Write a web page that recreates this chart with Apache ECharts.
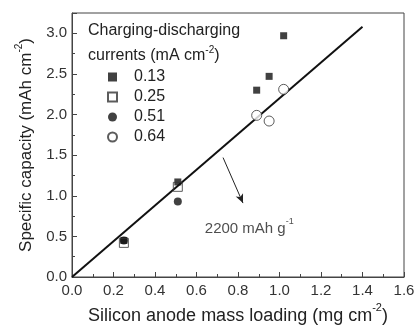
<!DOCTYPE html>
<html>
<head>
<meta charset="utf-8">
<script src="https://cdn.jsdelivr.net/npm/echarts@6/dist/echarts.min.js"></script>
<style>
  html, body { margin: 0; padding: 0; background: #fff; }
  #chart { width: 417px; height: 325px; }
</style>
</head>
<body>
<div id="chart"></div>
<script>
const currents = ["0.13", "0.25", "0.51", "0.64"]
const pts013 = [[0.25, 0.45], [0.51, 1.17], [0.89, 2.3], [0.95, 2.47], [1.02, 2.97]]
const pts025 = [[0.25, 0.42], [0.51, 1.11]]
const pts051 = [[0.25, 0.45], [0.51, 0.93]]
const pts064 = [[0.89, 1.99], [0.95, 1.92], [1.02, 2.31]]
const fitLine = [[0, 0], [1.4, 3.08]]
const arrowFrom = [0.728, 1.47]
const arrowTo = [0.824, 0.91]
const noteAt = [0.64, 0.62]

const font = "Liberation Sans, Arial, sans-serif"
const chart = echarts.init(document.getElementById("chart"))

function supStyles(size) {
  return {
    n: { fontSize: size, lineHeight: size + 4, verticalAlign: "bottom", color: "#222", fontFamily: font },
    sup: { fontSize: Math.round(size * 0.6), lineHeight: size + 4, verticalAlign: "top", color: "#222", fontFamily: font },
  }
}

const option = {
  animation: false,
  backgroundColor: "#fff",
  textStyle: { fontFamily: font },
  grid: {
    left: 72, top: 13, right: 13, bottom: 48,
    outerBoundsMode: "none", containLabel: false,
    show: true, borderColor: "#444", borderWidth: 1,
  },
  legend: {
    data: currents,
    orient: "vertical",
    left: 102,
    top: 64,
    itemGap: 4,
    itemWidth: 9,
    itemHeight: 9,
    textStyle: { fontSize: 16, lineHeight: 16, color: "#222", fontFamily: font, padding: [0, 0, 0, 12] },
  },
  graphic: [
    {
      type: "text",
      left: 88,
      top: 23,
      style: { text: "Charging-discharging", fontSize: 16, fill: "#222", fontFamily: font },
    },
    {
      type: "text",
      left: 88,
      top: 45,
      style: {
        text: "{n|currents (mA cm}{sup|-2}{n|)}",
        rich: {
          n: { fontSize: 16, lineHeight: 19, verticalAlign: "bottom", fill: "#222", fontFamily: font },
          sup: { fontSize: 10, lineHeight: 19, verticalAlign: "top", fill: "#222", fontFamily: font },
        },
      },
    },
  ],
  xAxis: {
    type: "value",
    min: 0,
    max: 1.6,
    interval: 0.2,
    name: "{n|Silicon anode mass loading (mg cm}{sup|-2}{n|)}",
    nameLocation: "middle",
    nameGap: 24,
    nameTextStyle: { rich: supStyles(18) },
    axisLine: { onZero: false, lineStyle: { color: "#444" } },
    axisTick: { inside: true, length: 5, lineStyle: { color: "#444" } },
    minorTick: { show: true, splitNumber: 2, length: 3, lineStyle: { color: "#444" } },
    axisLabel: { fontSize: 15, color: "#333", margin: 6, formatter: v => v.toFixed(1) },
    splitLine: { show: false },
  },
  yAxis: {
    type: "value",
    min: 0,
    max: 3.25,
    interval: 0.5,
    name: "{n|Specific capacity (mAh cm}{sup|-2}{n|)}",
    nameLocation: "middle",
    nameGap: 36,
    nameTextStyle: { rich: supStyles(17) },
    axisLine: { show: true, onZero: false, lineStyle: { color: "#444" } },
    axisTick: { show: true, inside: true, length: 5, lineStyle: { color: "#444" } },
    minorTick: { show: true, splitNumber: 2, length: 3, lineStyle: { color: "#444" } },
    axisLabel: { fontSize: 15, color: "#333", margin: 5, formatter: v => v.toFixed(1), showMaxLabel: false },
    splitLine: { show: false },
  },
  series: [
    {
      name: "fit",
      type: "line",
      data: fitLine,
      symbol: "none",
      lineStyle: { color: "#111", width: 2 },
      z: 1,
      markLine: {
        silent: true,
        symbol: ["none", "arrow"],
        symbolSize: [6, 9],
        lineStyle: { color: "#222", width: 1, type: "solid" },
        label: { show: false },
        data: [[{ coord: arrowFrom }, { coord: arrowTo }]],
      },
    },
    {
      name: "note",
      type: "scatter",
      data: [noteAt],
      symbolSize: 0,
      silent: true,
      label: {
        show: true,
        position: "right",
        distance: 0,
        formatter: "{n|2200 mAh g}{sup|-1}",
        rich: supStyles(15),
      },
    },
    {
      name: "0.13",
      type: "scatter",
      data: pts013,
      symbol: "rect",
      symbolSize: 7,
      itemStyle: { color: "#111" },
      z: 3,
    },
    {
      name: "0.25",
      type: "scatter",
      data: pts025,
      symbol: "rect",
      symbolSize: 9,
      itemStyle: { color: "rgba(255,255,255,0)", borderColor: "#333", borderWidth: 1 },
      z: 4,
    },
    {
      name: "0.51",
      type: "scatter",
      data: pts051,
      symbol: "circle",
      symbolSize: 8,
      itemStyle: { color: "#111" },
      z: 3,
    },
    {
      name: "0.64",
      type: "scatter",
      data: pts064,
      symbol: "circle",
      symbolSize: 10,
      itemStyle: { color: "#fff", borderColor: "#333", borderWidth: 1 },
      z: 4,
    },
  ],
}

chart.setOption(option)
</script>
</body>
</html>
